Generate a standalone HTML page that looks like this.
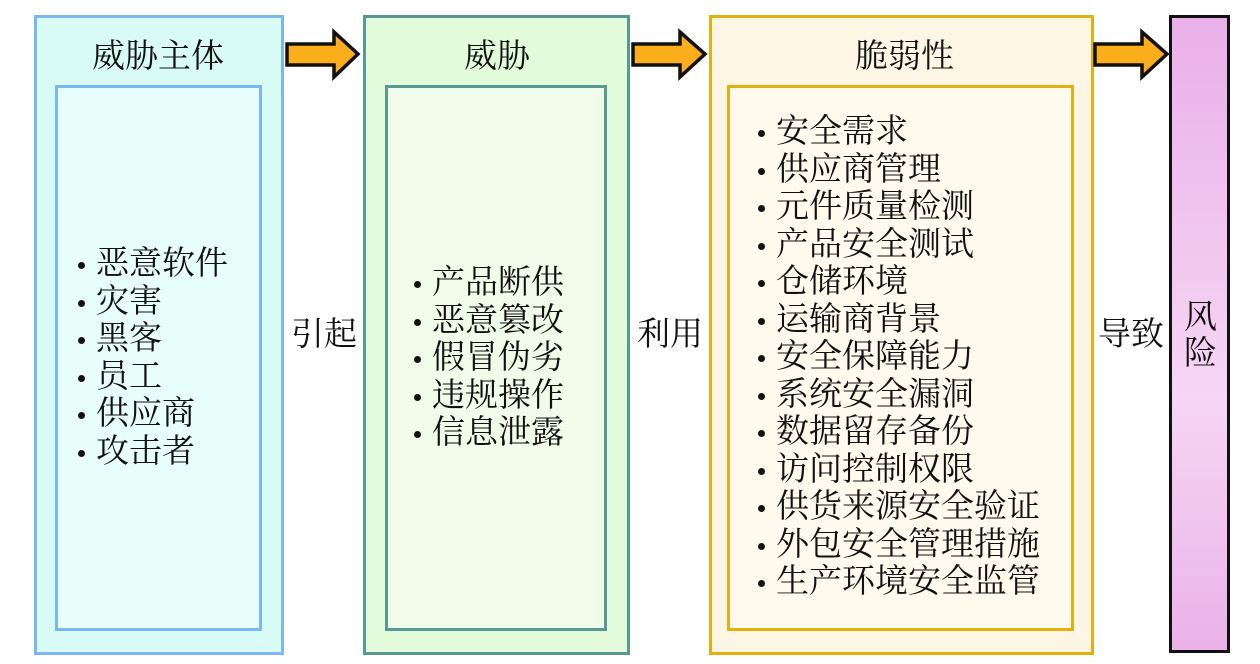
<!DOCTYPE html><html><head><meta charset="utf-8"><style>
body{margin:0;width:1260px;height:664px;background:#fff;position:relative;overflow:hidden;font-family:"Liberation Serif","Noto Serif CJK SC","Noto Sans CJK SC",serif;color:#111}
.b{position:absolute;box-sizing:border-box}
.t{position:absolute;font-size:33px;line-height:33px;white-space:nowrap}
ul{position:absolute;margin:0;padding:0;list-style:none;font-size:33px}
li{height:37.5px;line-height:37.5px;white-space:nowrap;position:relative;padding-left:20px}
li:before{content:"";position:absolute;left:2px;top:16px;width:7px;height:7px;border-radius:50%;background:#111}
</style></head><body>
<div class="b" style="left:34px;top:15px;width:250px;height:640px;border:3px solid #7ab8ef;background:#d8fbf6"></div>
<div class="b" style="left:55px;top:85px;width:207px;height:546px;border:3px solid #7ab8ef;background:#e8fefb"></div>
<div class="t" style="left:92px;top:41px">威胁主体</div>
<ul style="left:76px;top:246px"><li>恶意软件</li><li>灾害</li><li>黑客</li><li>员工</li><li>供应商</li><li>攻击者</li></ul>

<div class="b" style="left:363px;top:15px;width:267px;height:640px;border:3px solid #5a9896;background:#e2fbda"></div>
<div class="b" style="left:385px;top:85px;width:222px;height:546px;border:3px solid #5a9896;background:#f0fce9"></div>
<div class="t" style="left:464px;top:41px">威胁</div>
<ul style="left:412px;top:265px"><li>产品断供</li><li>恶意篡改</li><li>假冒伪劣</li><li>违规操作</li><li>信息泄露</li></ul>

<div class="b" style="left:709px;top:15px;width:385px;height:640px;border:3px solid #e2b10f;background:#fdf6e4"></div>
<div class="b" style="left:727px;top:85px;width:347px;height:546px;border:3px solid #e2b10f;background:#fefaee"></div>
<div class="t" style="left:855px;top:41px">脆弱性</div>
<ul style="left:756px;top:114px"><li>安全需求</li><li>供应商管理</li><li>元件质量检测</li><li>产品安全测试</li><li>仓储环境</li><li>运输商背景</li><li>安全保障能力</li><li>系统安全漏洞</li><li>数据留存备份</li><li>访问控制权限</li><li>供货来源安全验证</li><li>外包安全管理措施</li><li>生产环境安全监管</li></ul>

<div class="b" style="left:1169px;top:15px;width:61px;height:638px;border:3px solid #111;background:linear-gradient(#eab0e9,#f6d6f4 60%,#eab2e8)"></div>
<div class="t" style="left:1184px;top:300px;line-height:36px;width:33px;white-space:normal">风险</div>

<div class="t" style="left:291px;top:319px">引起</div>
<div class="t" style="left:637px;top:319px">利用</div>
<div class="t" style="left:1098px;top:319px">导致</div>

<svg class="b" style="left:0;top:0" width="1260" height="664">
<g fill="#fbae1b" stroke="#111" stroke-width="3.5" stroke-linejoin="miter">
<polygon points="287,44 334,44 334,32 358,54 334,77 334,65 287,65"/>
<polygon points="633,44 680,44 680,32 705,54 680,77 680,65 633,65"/>
<polygon points="1095,44 1142,44 1142,32 1167,54 1142,77 1142,65 1095,65"/>
</g></svg>
</body></html>
